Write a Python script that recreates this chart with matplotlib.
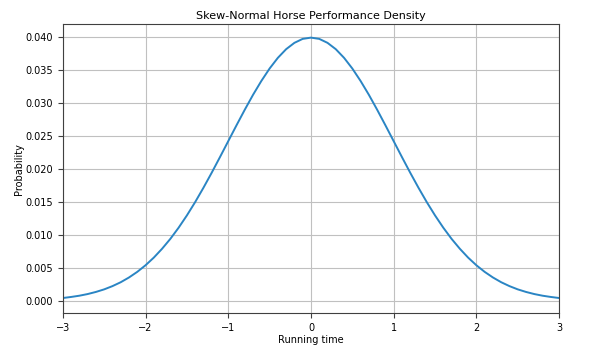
import matplotlib
matplotlib.use("Agg")
import matplotlib.pyplot as plt

x_vals = [round(-3 + 0.1 * i, 1) for i in range(61)]
half = [0.03989, 0.03970, 0.03910, 0.03814, 0.03683, 0.03521, 0.03332, 0.03123,
        0.02897, 0.02661, 0.02420, 0.02179, 0.01942, 0.01714, 0.01497, 0.01295,
        0.01109, 0.00940, 0.00790, 0.00656, 0.00540, 0.00440, 0.00355, 0.00283,
        0.00224, 0.00175, 0.00136, 0.00104, 0.00079, 0.00060, 0.00044]
density = half[::-1] + half[1:]

fig = plt.figure(figsize=(5.98, 3.53), dpi=100)
ax = fig.add_axes([0.105, 0.112, 0.83, 0.819])
ax.plot(x_vals, density, color="#2a85c4", linewidth=1.4)
ax.set_xlim(-3, 3)
ax.set_ylim(-0.0019, 0.0419)
ax.grid(True, color="#c0c0c0", linewidth=0.8)
for s in ax.spines.values():
    s.set_color("#404040")
ax.set_title("Skew-Normal Horse Performance Density", fontsize=8, pad=3.5)
ax.set_xlabel("Running time", fontsize=7, labelpad=1)
ax.set_ylabel("Probability", fontsize=7, labelpad=1)
ax.tick_params(labelsize=7, color="#404040")
fig.savefig("out.png", dpi=100)
